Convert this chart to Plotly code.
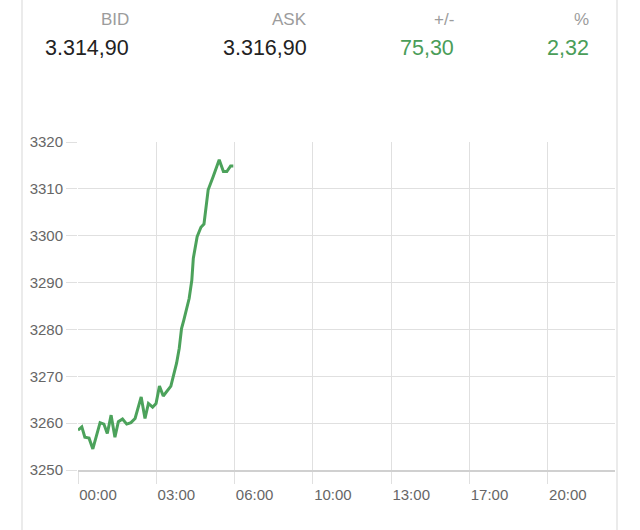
import plotly.graph_objects as go

# ---- data ----
times = ["00:00", "00:10", "00:18", "00:29", "00:39", "00:58", "01:08", "01:17",
         "01:27", "01:37", "01:46", "01:57", "02:08", "02:19", "02:30", "02:46",
         "02:56", "03:05", "03:16", "03:25", "03:34", "03:44", "04:04", "04:19",
         "04:26", "04:32", "04:38", "04:52", "04:59", "05:03", "05:13", "05:23",
         "05:31", "05:42", "05:55", "06:11", "06:22", "06:31", "06:41", "06:48"]
prices = [3258.5, 3259.2, 3257.0, 3256.8, 3254.5, 3260.1, 3259.8, 3257.8,
          3261.7, 3257.0, 3260.3, 3260.9, 3259.8, 3260.1, 3261.0, 3265.6,
          3261.0, 3264.2, 3263.4, 3264.2, 3267.9, 3265.8, 3267.9, 3272.8,
          3276.0, 3280.2, 3282.0, 3286.6, 3290.5, 3295.2, 3299.8, 3301.8,
          3302.5, 3309.8, 3312.6, 3316.2, 3313.7, 3313.7, 3314.9, 3314.9]

tick_labels = ["00:00", "03:00", "06:00", "10:00", "13:00", "17:00", "20:00"]
y_ticks = [3250, 3260, 3270, 3280, 3290, 3300, 3310, 3320]

header_labels = ["BID", "ASK", "+/-", "%"]
header_values = ["3.314,90", "3.316,90", "75,30", "2,32"]
header_colors = ["#222222", "#222222", "#4a9d58", "#4a9d58"]

# ---- build ----
def to_hours(t):
    h, m = t.split(":")
    return int(h) + int(m) / 60.0

x_hours = [to_hours(t) for t in times]
step = 24.0 / 7.0
tick_vals = [i * step for i in range(len(tick_labels))]

FONT = "Liberation Sans, Arial, sans-serif"
GREEN = "#4ca25b"
GRID = "#e0e0e0"

fig = go.Figure()
fig.add_trace(go.Scatter(
    x=x_hours, y=prices, mode="lines",
    line=dict(color=GREEN, width=3, shape="linear"),
    hoverinfo="x+y", showlegend=False,
))

# plot area in pixels: x 78..615, y 142..470
L, R, T, B = 78, 615, 142, 470
W, H = R - L, B - T

def px(xp):
    return (xp - L) / W

def py(yp):
    return (B - yp) / H

label_right = [131, 309, 456, 591]
annotations = []
for lab, val, col, xr in zip(header_labels, header_values, header_colors, label_right):
    annotations.append(dict(
        x=px(xr), y=py(19), xref="paper", yref="paper", text=lab,
        showarrow=False, xanchor="right", yanchor="middle",
        font=dict(family=FONT, size=17, color="#9c9c9c")))
    annotations.append(dict(
        x=px(xr), y=py(48), xref="paper", yref="paper", text=val,
        showarrow=False, xanchor="right", yanchor="middle",
        font=dict(family=FONT, size=21.5, color=col)))

shapes = []
for xe in (22, 617):
    shapes.append(dict(type="line", xref="paper", yref="paper",
                       x0=px(xe), x1=px(xe), y0=py(530), y1=py(0),
                       line=dict(color="#ebebeb", width=2), layer="below"))

fig.update_layout(
    width=640, height=530,
    margin=dict(l=L, r=640 - R, t=T, b=530 - B),
    paper_bgcolor="white", plot_bgcolor="white",
    font=dict(family=FONT, size=15, color="#666666"),
    annotations=annotations, shapes=shapes,
    showlegend=False,
)
fig.update_xaxes(
    range=[0, W / 78.3 * step],
    tickmode="array", tickvals=tick_vals, ticktext=tick_labels,
    showgrid=True, gridcolor=GRID, gridwidth=1,
    ticks="outside", ticklen=12, tickcolor=GRID, tickwidth=1,
    tickfont=dict(family=FONT, size=15, color="#666666"),
    ticklabelshift=20, ticklabelstandoff=-2,
    showline=True, linecolor="#d0d0d0", linewidth=1.5,
    zeroline=False, fixedrange=True,
)
fig.update_yaxes(
    range=[3250, 3320],
    tickmode="array", tickvals=y_ticks, ticktext=[str(v) for v in y_ticks],
    showgrid=True, gridcolor=GRID, gridwidth=1,
    ticks="outside", ticklen=11, tickcolor=GRID, tickwidth=1,
    tickfont=dict(family=FONT, size=15, color="#666666"),
    showline=False, zeroline=False, fixedrange=True,
)

fig.write_html(
    "out.html",
    config={"displayModeBar": False},
    post_script="document.body.style.margin='0';document.body.style.overflow='hidden';",
)
